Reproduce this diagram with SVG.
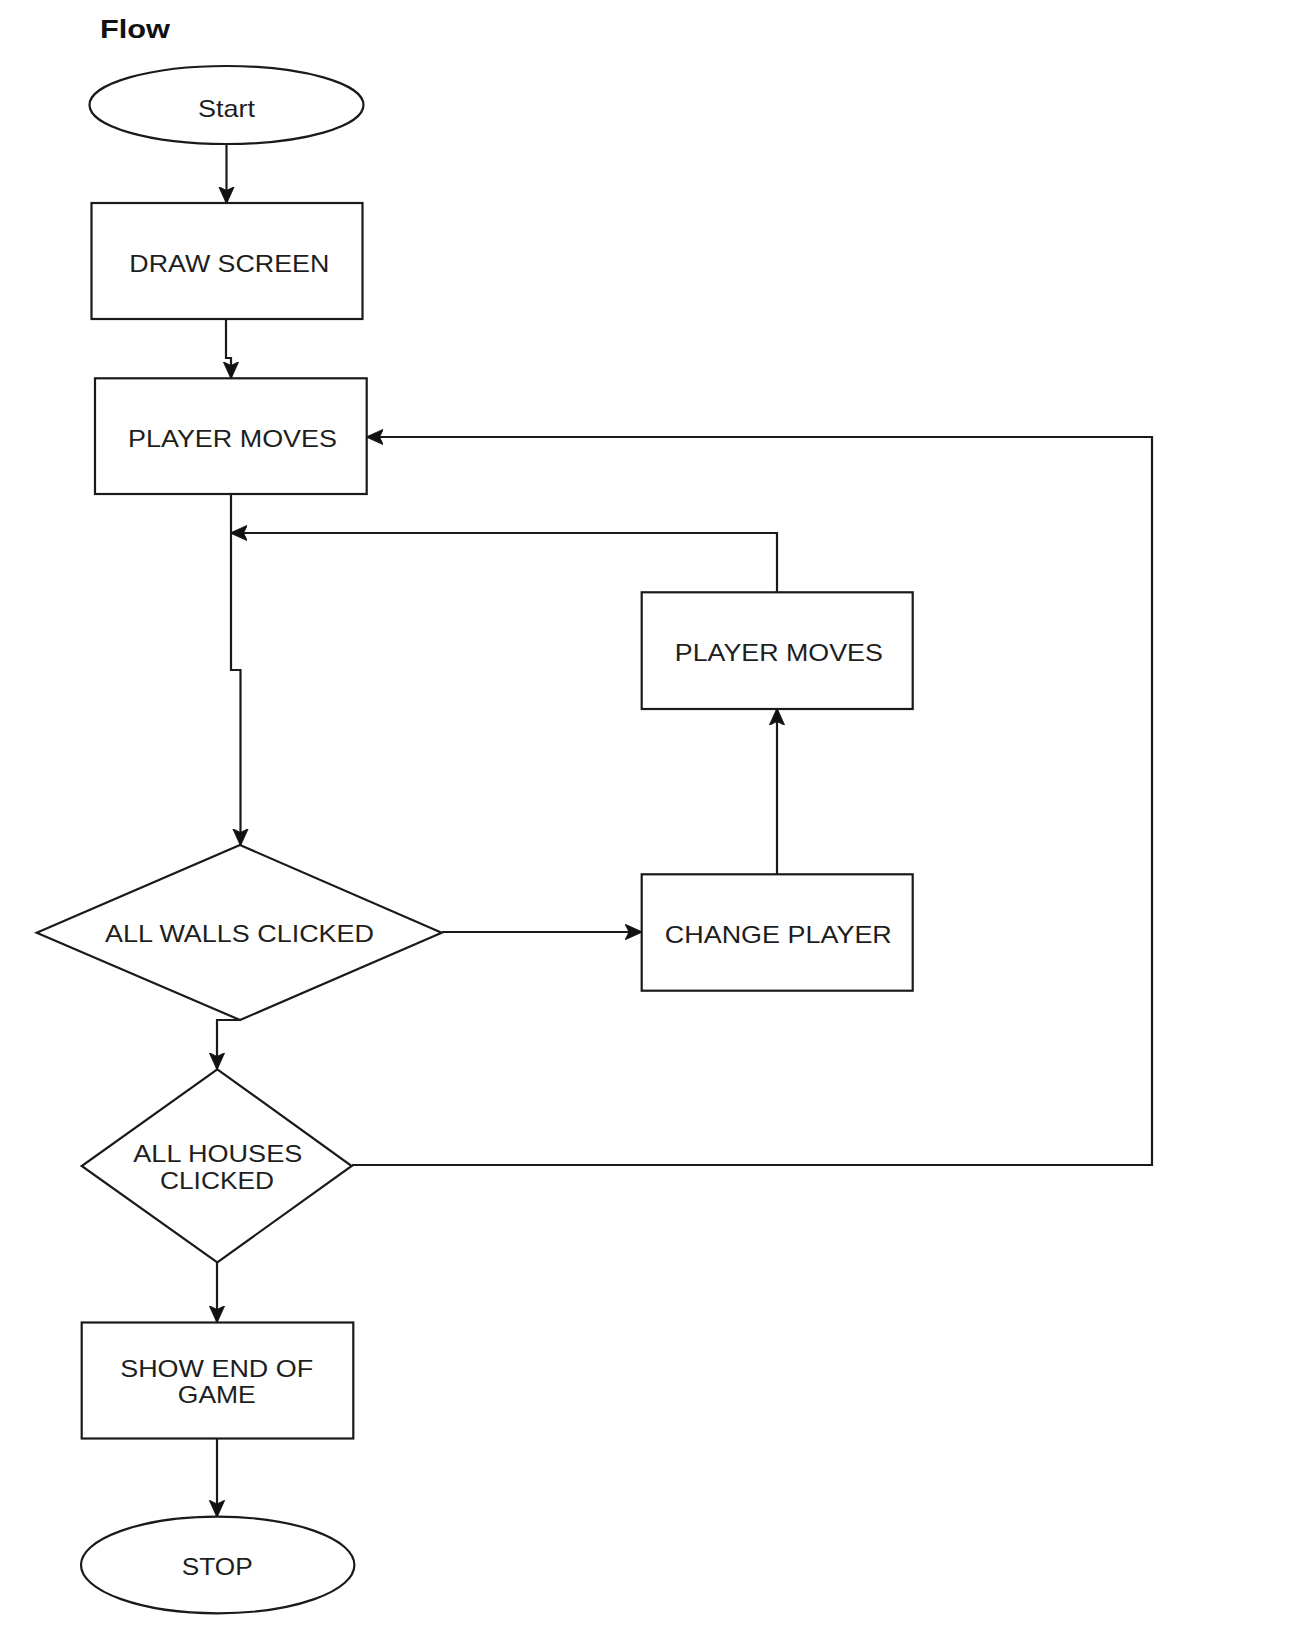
<svg xmlns="http://www.w3.org/2000/svg" width="1302" height="1638" viewBox="0 0 1302 1638">
<style>
.shape{fill:#fff;stroke:#1a1a1a;stroke-width:2.2}
.t{font-family:"Liberation Sans",Arial,Helvetica,sans-serif;font-size:24px;fill:#1e1e1e}
.title{font-family:"Liberation Sans",Arial,Helvetica,sans-serif;font-size:25px;font-weight:bold;fill:#111}
.c{fill:none;stroke:#1a1a1a;stroke-width:2.2}
</style>
<defs>
<marker id="arr" viewBox="0 0 10 10" refX="9.5" refY="5" markerWidth="7.8" markerHeight="7.8" orient="auto">
<path d="M0,0.5 L10,5 L0,9.5 L2.2,5 z" fill="#111" stroke="#111" stroke-width="0.5" stroke-linejoin="round"/>
</marker>
</defs>
<rect width="1302" height="1638" fill="#fff"/>
<text class="title" x="100" y="38" textLength="70" lengthAdjust="spacingAndGlyphs">Flow</text>
<g id="connectors">
<path class="c" d="M226.5,144 V203" marker-end="url(#arr)"/>
<path class="c" d="M226,319 V358 H231 V378" marker-end="url(#arr)"/>
<path class="c" d="M231,494 V670 H240.5 V845" marker-end="url(#arr)"/>
<path class="c" d="M777,592 V533 H231" marker-end="url(#arr)"/>
<path class="c" d="M777,874 V709" marker-end="url(#arr)"/>
<path class="c" d="M442,932 H641.5" marker-end="url(#arr)"/>
<path class="c" d="M240,1020 H217 V1069" marker-end="url(#arr)"/>
<path class="c" d="M352,1165 H1152 V437 H367" marker-end="url(#arr)"/>
<path class="c" d="M217,1262 V1322" marker-end="url(#arr)"/>
<path class="c" d="M217,1438.5 V1516.5" marker-end="url(#arr)"/>
</g>
<g id="start">
<ellipse class="shape" cx="226.5" cy="105" rx="137" ry="39"/>
<text class="t" x="226.5" y="116.5" text-anchor="middle" textLength="57" lengthAdjust="spacingAndGlyphs">Start</text>
</g>
<g id="draw-screen">
<rect class="shape" x="91.5" y="203" width="271" height="116"/>
<text class="t" x="229.3" y="271.5" text-anchor="middle" textLength="200" lengthAdjust="spacingAndGlyphs">DRAW SCREEN</text>
</g>
<g id="player-moves-1">
<rect class="shape" x="95" y="378.3" width="271.7" height="115.7"/>
<text class="t" x="232.5" y="447.3" text-anchor="middle" textLength="209" lengthAdjust="spacingAndGlyphs">PLAYER MOVES</text>
</g>
<g id="player-moves-2">
<rect class="shape" x="641.7" y="592.3" width="271" height="116.7"/>
<text class="t" x="778.8" y="661" text-anchor="middle" textLength="208" lengthAdjust="spacingAndGlyphs">PLAYER MOVES</text>
</g>
<g id="change-player">
<rect class="shape" x="641.7" y="874.3" width="271" height="116.4"/>
<text class="t" x="778.3" y="942.7" text-anchor="middle" textLength="227" lengthAdjust="spacingAndGlyphs">CHANGE PLAYER</text>
</g>
<g id="all-walls-clicked">
<polygon class="shape" points="240,845 441.7,932.7 240,1020 36.7,932.7"/>
<text class="t" x="239.5" y="941.7" text-anchor="middle" textLength="269" lengthAdjust="spacingAndGlyphs">ALL WALLS CLICKED</text>
</g>
<g id="all-houses-clicked">
<polygon class="shape" points="217.3,1069.3 351.7,1166 217.3,1262.3 81.7,1166"/>
<text class="t" x="217.8" y="1161.7" text-anchor="middle" textLength="169" lengthAdjust="spacingAndGlyphs">ALL HOUSES</text>
<text class="t" x="217" y="1189.3" text-anchor="middle" textLength="114" lengthAdjust="spacingAndGlyphs">CLICKED</text>
</g>
<g id="show-end-of-game">
<rect class="shape" x="81.7" y="1322.5" width="271.6" height="116"/>
<text class="t" x="216.7" y="1376.7" text-anchor="middle" textLength="193" lengthAdjust="spacingAndGlyphs">SHOW END OF</text>
<text class="t" x="216.8" y="1403.3" text-anchor="middle" textLength="78" lengthAdjust="spacingAndGlyphs">GAME</text>
</g>
<g id="stop">
<ellipse class="shape" cx="217.7" cy="1565" rx="136.7" ry="48.3"/>
<text class="t" x="217.2" y="1575" text-anchor="middle" textLength="71" lengthAdjust="spacingAndGlyphs">STOP</text>
</g>
</svg>
